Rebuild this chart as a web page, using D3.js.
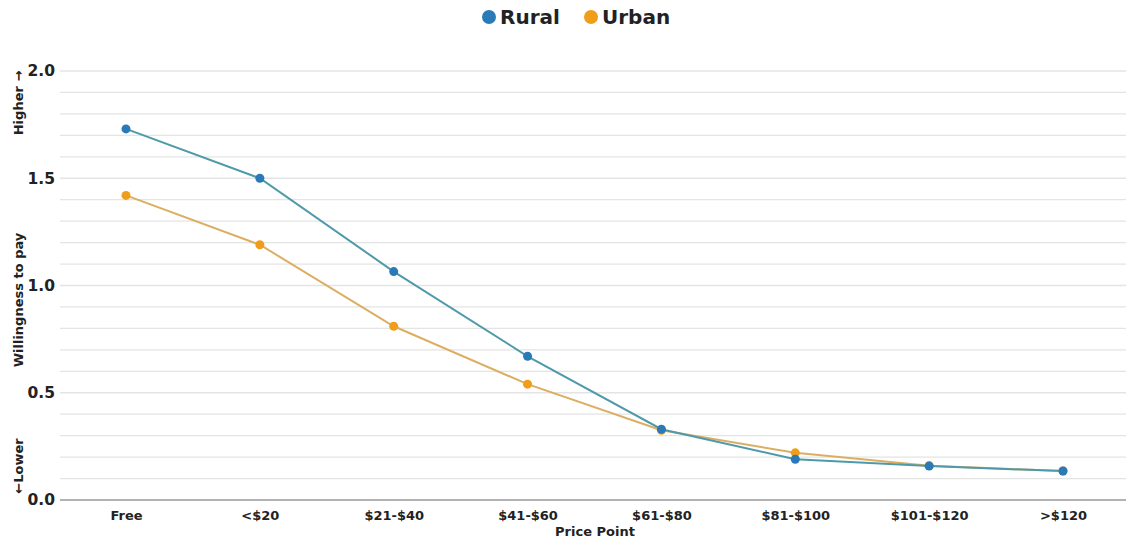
<!DOCTYPE html>
<html>
<head>
<meta charset="utf-8">
<script src="https://cdn.jsdelivr.net/npm/d3@7"></script>
<style>
  body { margin: 0; background: #fff; font-family: "DejaVu Sans", sans-serif; }
  svg text { font-family: "DejaVu Sans", sans-serif; font-weight: bold; fill: #222; }
</style>
</head>
<body>
<div id="chart"></div>
<script>
var pricePoints = ["Free", "<$20", "$21-$40", "$41-$60", "$61-$80", "$81-$100", "$101-$120", ">$120"];
var ruralValues = [1.73, 1.50, 1.065, 0.67, 0.33, 0.19, 0.158, 0.135];
var urbanValues = [1.42, 1.19, 0.81, 0.54, 0.325, 0.22, 0.16, 0.135];
var seriesNames = ["Rural", "Urban"];
var yTicks = [0, 0.5, 1.0, 1.5, 2.0];

var width = 1126, height = 539;
var margin = { top: 71, left: 60, right: 0, bottom: 39 };
var innerW = width - margin.left - margin.right;
var innerH = height - margin.top - margin.bottom;

var svg = d3.select('#chart')
  .append('svg')
    .attr('width', width)
    .attr('height', height);

var g = svg.append('g')
  .attr('transform', 'translate(' + margin.left + ',' + margin.top + ')');

var xScale = d3.scalePoint()
  .domain(pricePoints)
  .range([66, 1003]);

var yScale = d3.scaleLinear()
  .domain([0, 2])
  .range([innerH, 0]);

var markerColor = { Rural: "#2a7ab8", Urban: "#f19d1c" };
var lineColor = { Rural: "#4f9aaa", Urban: "#dcae62" };

// grid lines every 0.1
var gridVals = d3.range(1, 21).map(function(d) { return d / 10; });
g.selectAll('.grid')
  .data(gridVals)
  .enter().append('line')
    .attr('class', 'grid')
    .attr('x1', 0)
    .attr('x2', innerW)
    .attr('y1', function(d) { return yScale(d); })
    .attr('y2', function(d) { return yScale(d); })
    .attr('stroke', '#e4e4e4')
    .attr('stroke-width', 1.3);

// y axis labels
var yAxis = d3.axisLeft(yScale).tickValues(yTicks).tickFormat(d3.format('.1f')).tickSize(0).tickPadding(5);
var yG = g.append('g').call(yAxis);
yG.select('.domain').remove();
yG.selectAll('text').attr('font-size', 15.5).style('font-weight', 'bold').attr('fill', '#222');

// x axis
var xAxis = d3.axisBottom(xScale).tickSize(0).tickPadding(11);
var xG = g.append('g')
  .attr('transform', 'translate(0,' + innerH + ')')
  .call(xAxis);
xG.select('.domain').remove();
xG.append('line')
  .attr('x1', 0)
  .attr('x2', innerW)
  .attr('stroke', '#999')
  .attr('stroke-width', 1.5);
xG.selectAll('text').attr('font-size', 13).style('font-weight', 'bold').attr('fill', '#222');

// lines
var line = d3.line()
  .x(function(d, i) { return xScale(pricePoints[i]); })
  .y(function(d) { return yScale(d); });

var seriesData = [
  { key: "Urban", values: urbanValues },
  { key: "Rural", values: ruralValues }
];

var item = g.selectAll('.item')
  .data(seriesData)
  .enter().append('g')
    .attr('class', 'item');

item.append('path')
  .attr('d', function(d) { return line(d.values); })
  .attr('fill', 'none')
  .attr('stroke', function(d) { return lineColor[d.key]; })
  .attr('stroke-width', 2);

item.selectAll('circle')
  .data(function(d) { return d.values.map(function(v, i) { return { key: d.key, v: v, i: i }; }); })
  .enter().append('circle')
    .attr('cx', function(d) { return xScale(pricePoints[d.i]); })
    .attr('cy', function(d) { return yScale(d.v); })
    .attr('r', 4.5)
    .attr('fill', function(d) { return markerColor[d.key]; });

// axis titles
svg.append('text')
  .attr('x', 595)
  .attr('y', 536)
  .attr('text-anchor', 'middle')
  .attr('font-size', 13)
  .text('Price Point');

svg.append('text')
  .attr('transform', 'translate(23,' + 300 + ') rotate(-90)')
  .attr('text-anchor', 'middle')
  .attr('font-size', 13)
  .text('Willingness to pay');

svg.append('text')
  .attr('transform', 'translate(23,' + 103 + ') rotate(-90)')
  .attr('text-anchor', 'middle')
  .attr('font-size', 13)
  .text('Higher \u2192');

svg.append('text')
  .attr('transform', 'translate(23,' + 466 + ') rotate(-90)')
  .attr('text-anchor', 'middle')
  .attr('font-size', 13)
  .text('\u2190Lower');

// legend
var legend = svg.append('g').attr('class', 'legend');
var legendX = [489, 591];
seriesNames.forEach(function(name, i) {
  legend.append('circle')
    .attr('cx', legendX[i])
    .attr('cy', 17)
    .attr('r', 7)
    .attr('fill', markerColor[name]);
  legend.append('text')
    .attr('x', legendX[i] + 11)
    .attr('y', 24)
    .attr('font-size', 20)
    .text(name);
});
</script>
</body>
</html>
